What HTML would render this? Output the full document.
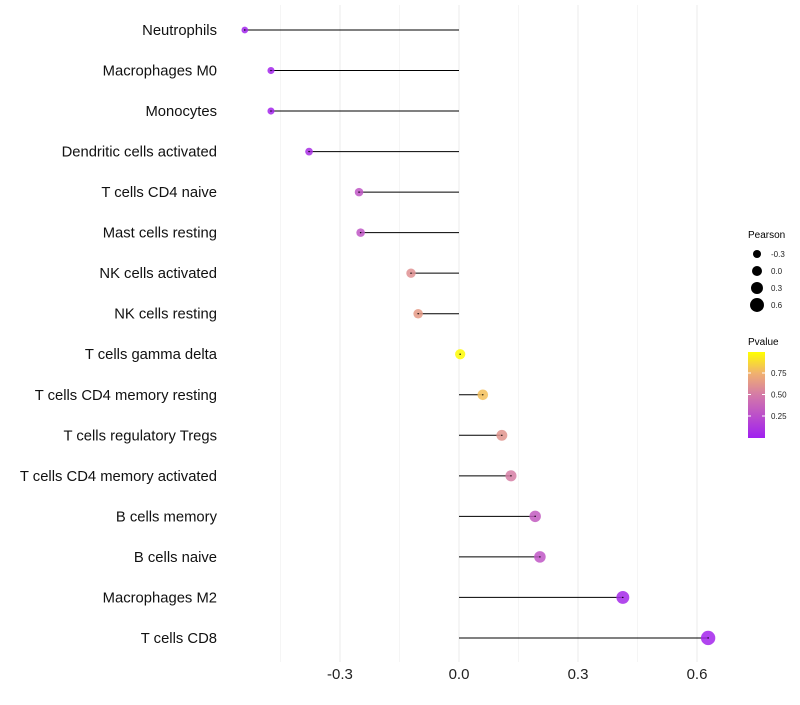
<!DOCTYPE html>
<html><head><meta charset="utf-8"><style>
body{margin:0;background:#fff;font-family:"Liberation Sans",sans-serif}
</style></head><body>
<svg id="chart" width="800" height="700" xmlns="http://www.w3.org/2000/svg" font-family="Liberation Sans, sans-serif">
<defs><linearGradient id="pg" x1="0" y1="1" x2="0" y2="0">
<stop offset="0" stop-color="#a020f0"/><stop offset="0.5" stop-color="#d47aa8"/><stop offset="0.75" stop-color="#f0b070"/><stop offset="1" stop-color="#ffff00"/></linearGradient></defs>
<g id="grid"></g>
<g id="marks"></g>
<g id="legend">
<text x="748" y="238" font-size="10">Pearson</text>
<text x="748" y="345" font-size="10">Pvalue</text>
<rect x="748" y="352" width="17" height="86" fill="url(#pg)"/>
</g>
</svg>
<script>
const categories=["Neutrophils","Macrophages M0","Monocytes","Dendritic cells activated","T cells CD4 naive","Mast cells resting","NK cells activated","NK cells resting","T cells gamma delta","T cells CD4 memory resting","T cells regulatory  Tregs ","T cells CD4 memory activated","B cells memory","B cells naive","Macrophages M2","T cells CD8"];
const pearson=[-0.54,-0.474,-0.474,-0.378,-0.252,-0.248,-0.121,-0.103,0.003,0.06,0.108,0.131,0.192,0.204,0.413,0.628];
const pvalue=[0.02,0.03,0.03,0.08,0.3,0.3,0.6,0.65,0.99,0.8,0.62,0.52,0.33,0.3,0.05,0.03];
const xTicks=[-0.3,0,0.3,0.6];
const xTickLabels=["-0.3","0.0","0.3","0.6"];
const sizeBreaks=[-0.3,0,0.3,0.6];
const sizeLabels=["-0.3","0.0","0.3","0.6"];
const colorBreaks=[0.25,0.5,0.75];
const colorLabels=["0.25","0.50","0.75"];
const NS="http://www.w3.org/2000/svg";
const x=v=>459+v*396.7;
const y=i=>30+i*40.53;
const r=p=>Math.max(2.2,5.1+3.3*p);
const rl=p=>5+3.3*p;
function lerp(a,b,t){return a.map((v,i)=>Math.round(v+(b[i]-v)*t));}
const stops=[[0,[160,32,240]],[0.5,[212,122,168]],[0.75,[240,176,112]],[1,[255,255,0]]];
function col(p){for(let k=1;k<stops.length;k++){if(p<=stops[k][0]){const t=(p-stops[k-1][0])/(stops[k][0]-stops[k-1][0]);const c=lerp(stops[k-1][1],stops[k][1],t);return `rgb(${c})`;}}return "rgb(255,255,0)";}
function el(t,a,parent){const e=document.createElementNS(NS,t);for(const k in a)e.setAttribute(k,a[k]);parent.appendChild(e);return e;}
const grid=document.getElementById('grid'),marks=document.getElementById('marks'),leg=document.getElementById('legend');
[-0.45,-0.15,0.15,0.45].forEach(v=>{const l=el('line',{x1:x(v),x2:x(v),y1:5,y2:662,stroke:'#f3f3f3','stroke-width':0.8},grid);

});
xTicks.forEach((v,i)=>{const l=el('line',{x1:x(v),x2:x(v),y1:5,y2:662,stroke:'#ebebeb','stroke-width':1},grid);


const t=el('text',{x:x(v),y:679,'font-size':15,'text-anchor':'middle',fill:'#222'},grid);t.textContent=xTickLabels[i];

});
categories.forEach((c,i)=>{
const t=el('text',{x:217,y:y(i)+5,'font-size':14.8,'text-anchor':'end',fill:'#111'},marks);t.textContent=c;


const l=el('line',{x1:x(0),x2:x(pearson[i]),y1:y(i),y2:y(i),stroke:'#000','stroke-width':1},marks);


const d=el('circle',{cx:x(pearson[i]),cy:y(i),r:r(pearson[i]),fill:col(pvalue[i]),'fill-opacity':0.85},marks);


const d2=el('circle',{cx:x(pearson[i]),cy:y(i),r:0.7,fill:'#000'},marks);

});
sizeBreaks.forEach((v,i)=>{const cy=254+i*17;
const c=el('circle',{cx:757,cy:cy,r:rl(v),fill:'#000'},leg);


const t=el('text',{x:771,y:cy+3,'font-size':8,fill:'#222'},leg);t.textContent=sizeLabels[i];

});
colorBreaks.forEach((v,i)=>{const cy=437.5-v*86;
const l=el('line',{x1:748,x2:751,y1:cy,y2:cy,stroke:'#fff'},leg);


const l2=el('line',{x1:762,x2:765,y1:cy,y2:cy,stroke:'#fff'},leg);


const t=el('text',{x:771,y:cy+3,'font-size':8,fill:'#222'},leg);t.textContent=colorLabels[i];

});
</script>
</body></html>
